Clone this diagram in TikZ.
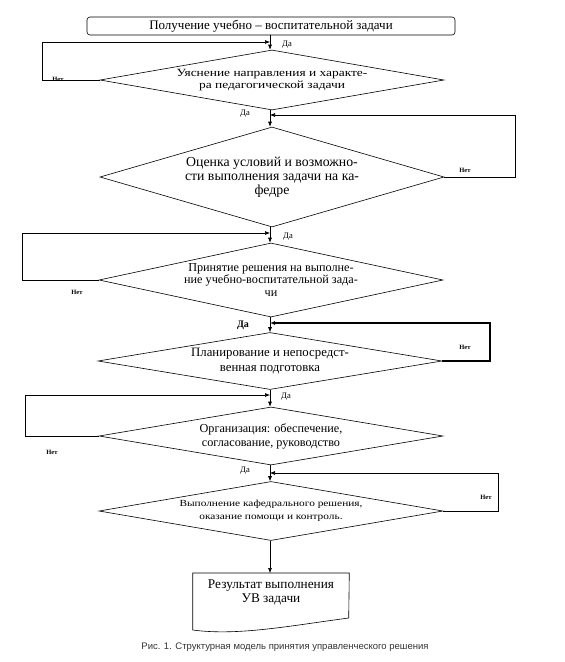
\documentclass[tikz,border=0pt]{standalone}
\usepackage{fontspec}
\setmainfont{Liberation Serif}
\setsansfont{Liberation Sans}
\newfontfamily\shirokiy[FakeStretch=1.22]{Liberation Serif}
\usetikzlibrary{shapes.geometric,arrows.meta,positioning,calc}
\tikzset{
  nachalo/.style={rectangle, draw, rounded corners=3pt, minimum width=368pt,
                  minimum height=18pt, inner sep=0pt, font=\fontsize{13}{14}\selectfont},
  romb/.style={diamond, draw, aspect=5, inner sep=-6pt, minimum width=344pt,
               align=center},
  dokument/.style={rectangle, anchor=north, minimum width=156pt, inner xsep=0pt,
                   inner ysep=6pt, align=center, font=\fontsize{13.3}{14.5}\selectfont},
  strelka/.style={-{Latex[length=5pt,width=4pt]}},
  liniya/.style={line width=0.6pt},
  da/.style={font=\fontsize{8.5}{9}\selectfont},
  net/.style={font=\fontsize{6.5}{7}\selectfont\bfseries},
}
\begin{document}
\begin{tikzpicture}[x=1pt, y=-1pt, liniya]
  \useasboundingbox (0,0) rectangle (565,662);
  % bloki
  \node[nachalo] (start) at (271,26) {Получение учебно -- воспитательной задачи};
  \node[romb, minimum height=60pt, font=\shirokiy\fontsize{11}{12}\selectfont] (r1) at (272,80)
       {Уяснение направления и характе-\\ра педагогической задачи};
  \node[romb, minimum height=100pt, font=\fontsize{13.8}{14}\selectfont] (r2) at (272,177)
       {Оценка условий и возможно-\\сти выполнения задачи на ка-\\федре};
  \node[romb, minimum height=74pt, font=\fontsize{12.2}{12.5}\selectfont] (r3) at (271,280)
       {Принятие решения на выполне-\\ние учебно-воспитательной зада-\\чи};
  \node[romb, minimum height=57pt, font=\fontsize{12.8}{15}\selectfont] (r4) at (270,361)
       {Планирование и непосредст-\\венная подготовка};
  \node[romb, minimum height=58pt, font=\fontsize{12.2}{14}\selectfont] (r5) at (271,436)
       {Организация: обеспечение,\\согласование, руководство};
  \node[romb, minimum height=59pt, font=\shirokiy\fontsize{9.3}{12.5}\selectfont] (r6) at (271,511)
       {Выполнение кафедрального решения,\\оказание помощи и контроль.};
  \node[dokument] (res) at (271,573) {Результат выполнения\\УВ задачи};
  \draw (res.north west) -- ++(0,57) .. controls +(45,6) and +(-60,8) .. ++(156,-12)
        -- (res.north east) -- cycle;
  % tochki vozvrata
  \coordinate (v1) at (270,42);
  \coordinate (v2) at (270,115);
  \coordinate (v3) at (270,233);
  \coordinate (v4) at (270,323);
  \coordinate (v5) at (270,395);
  \coordinate (v6) at (270,473);
  % strelki vniz
  \draw[strelka] (start.south -| v1) -- (r1.north -| v1);
  \draw[strelka] (r1.south -| v1) -- (r2.north -| v1);
  \draw[strelka] (r2.south -| v1) -- (r3.north -| v1);
  \draw[strelka] (r3.south -| v1) -- (r4.north -| v1);
  \draw[strelka] (r4.south -| v1) -- (r5.north -| v1);
  \draw[strelka] (r5.south -| v1) -- (r6.north -| v1);
  \draw[strelka] (r6.south -| v1) -- (res.north -| v1);
  % petli "Нет"
  \draw[strelka] (r1.west) -- (42,80) |- (v1);
  \draw[strelka] (r2.east) -- (515,177) |- (v2);
  \draw[strelka] (r3.west) -- (22,280) |- (v3);
  \draw[strelka, line width=1.1pt] (r4.east) -- (490,361) |- (v4);
  \draw[strelka] (r5.west) -- (25,436) |- (v5);
  \draw[strelka] (r6.east) -- (498,511) |- (v6);
  % podpisi
  \node[da] (da1) at (287,45) {Да};
  \node[da] (da2) at (245,114) {Да};
  \node[da] (da3) at (288,237) {Да};
  \node[da, font=\fontsize{10}{11}\selectfont\bfseries] (da4) at (243,325) {Да};
  \node[da] (da5) at (286,397) {Да};
  \node[da] (da6) at (245,471) {Да};
  \node[net] (net1) at (58,79) {Нет};
  \node[net] (net2) at (465,170) {Нет};
  \node[net] (net3) at (77,292) {Нет};
  \node[net] (net4) at (465,347) {Нет};
  \node[net] (net5) at (52,452) {Нет};
  \node[net] (net6) at (486,497) {Нет};
  \node[font=\sffamily\fontsize{9.5}{11}\selectfont, text=black!80] (cap) at (285,647)
       {Рис. 1. Структурная модель принятия управленческого решения};
\end{tikzpicture}
\end{document}
